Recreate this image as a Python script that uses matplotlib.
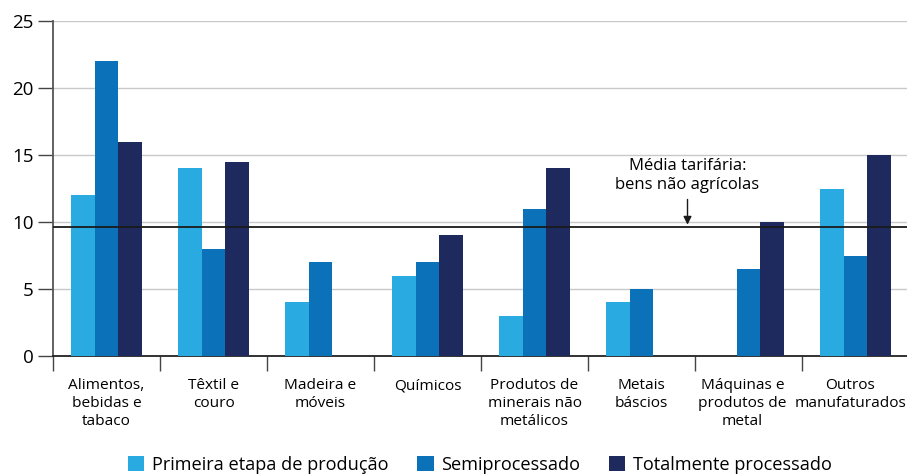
import matplotlib
matplotlib.use("Agg")
import matplotlib.pyplot as plt
from matplotlib.transforms import ScaledTranslation
import numpy as np

plt.rcParams['font.family'] = ['Open Sans', 'DejaVu Sans']

categories = ["Alimentos,\nbebidas e\ntabaco", "Têxtil e\ncouro", "Madeira e\nmóveis",
              "Químicos", "Produtos de\nminerais não\nmetálicos", "Metais\nbáscios",
              "Máquinas e\nprodutos de\nmetal", "Outros\nmanufaturados"]
primeira = [12, 14, 4, 6, 3, 4, 0, 12.5]
semi = [22, 8, 7, 7, 11, 5, 6.5, 7.5]
total = [16, 14.5, 0, 9, 14, 0, 10, 15]
media = 9.6
series_names = ["Primeira etapa de produção", "Semiprocessado", "Totalmente processado"]
colors = ["#29abe2", "#0b72b9", "#1e2a5e"]

fig = plt.figure(figsize=(9.07, 4.74), dpi=100)
ax = fig.add_axes([53 / 907, 1 - 356 / 474, 856 / 907, 335 / 474])

x = np.arange(len(categories))
w = 0.222
for i, (vals, name, c) in enumerate(zip([primeira, semi, total], series_names, colors)):
  ax.bar(x + (i - 1) * w, vals, w, color=c, label=name, zorder=3)

ax.axhline(media, color="#1a1a1a", lw=1.3, zorder=4)
ax.annotate("Média tarifária:\nbens não agrícolas", xy=(5.43, media + 0.2),
            xytext=(5.43, 12.2), ha="center", va="bottom", fontsize=12, linespacing=1.2,
            arrowprops=dict(arrowstyle="-|>", color="#1a1a1a", lw=1, mutation_scale=12,
                            shrinkA=3, shrinkB=0))

ax.set_xlim(-0.5, 7.5)
ax.set_ylim(0, 25)
ax.set_yticks([0, 5, 10, 15, 20, 25])
ax.yaxis.grid(True, color="#c8c8c8", lw=1, zorder=0)
ax.set_axisbelow(True)
ax.tick_params(axis="y", length=11, width=1, color="#444444", labelsize=13.5, pad=3)

ax.set_xticks(x)
ax.set_xticklabels(categories, fontsize=11.1, linespacing=1.25)
ax.set_xticks(np.arange(-0.5, 8, 1), minor=True)
ax.tick_params(axis="x", which="major", length=0, pad=16)
ax.tick_params(axis="x", which="minor", length=11, width=1, color="#444444")
# nudge the two crowded labels on the right
for lbl, dx in zip(ax.get_xticklabels()[-2:], [-0.06, -0.05]):
  lbl.set_transform(lbl.get_transform() + ScaledTranslation(dx, 0, fig.dpi_scale_trans))

for s in ["top", "right"]:
  ax.spines[s].set_visible(False)
ax.spines["left"].set_color("#555555")
ax.spines["left"].set_linewidth(1.3)
ax.spines["bottom"].set_color("#222222")
ax.spines["bottom"].set_linewidth(1.3)

fig.legend(loc="lower center", bbox_to_anchor=(0.529, -0.035), ncol=3, frameon=False,
           fontsize=13.1, handlelength=0.9, handleheight=0.9, handletextpad=0.4,
           columnspacing=1.6)

fig.savefig("out.png", dpi=100)
